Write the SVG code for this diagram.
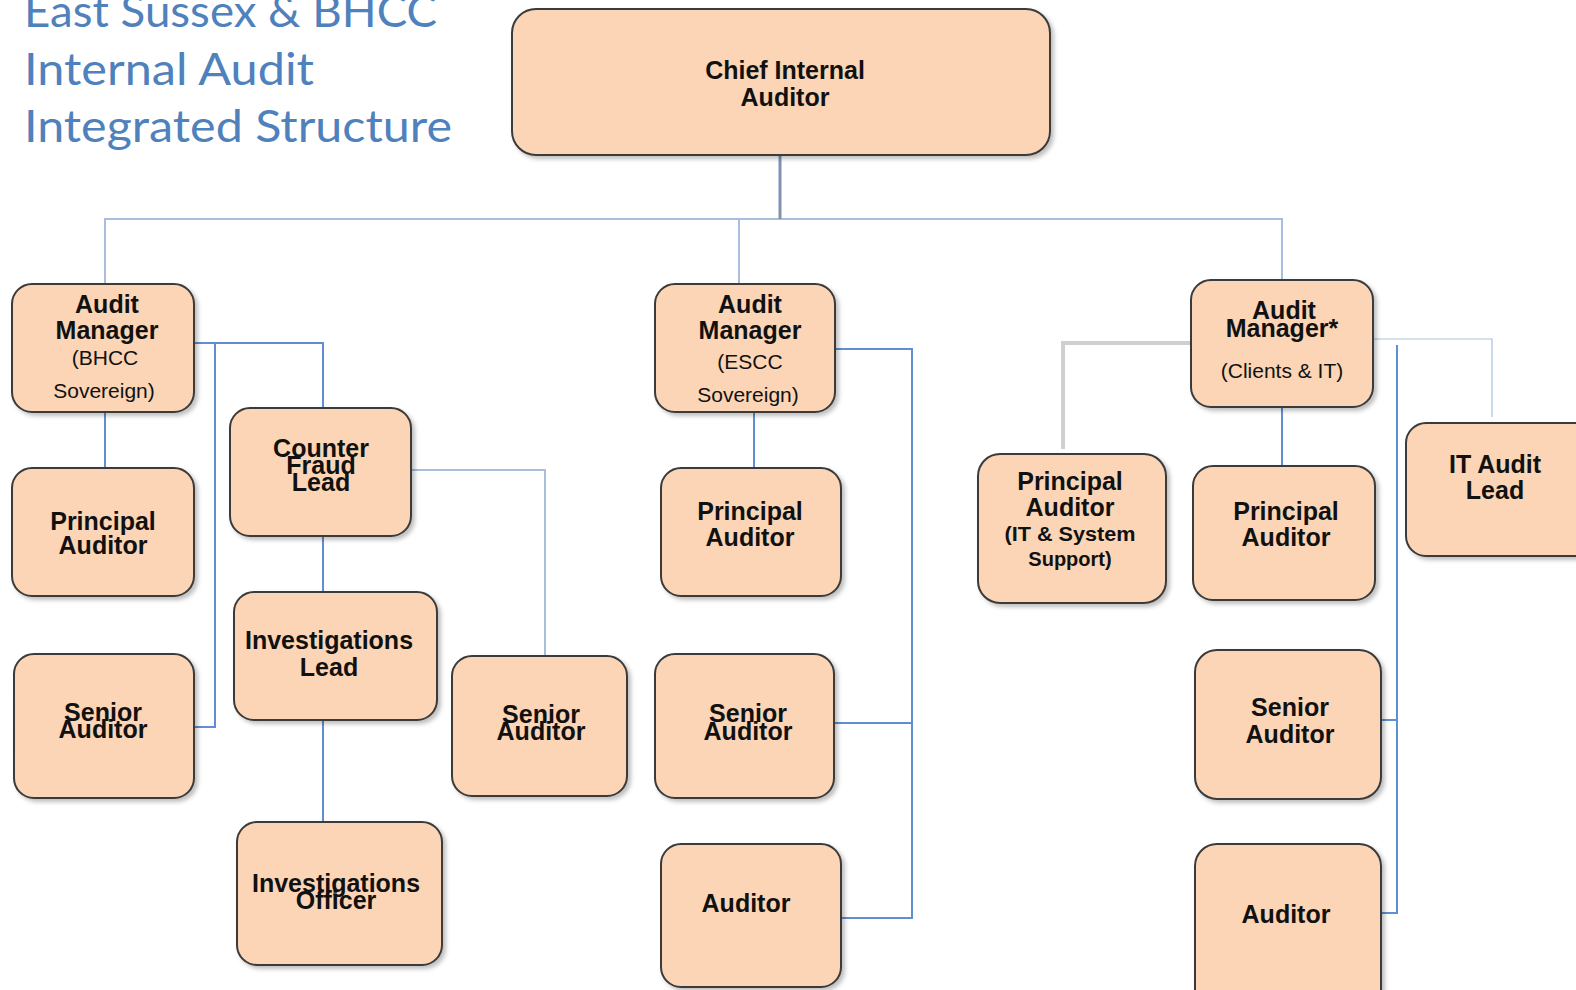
<svg xmlns="http://www.w3.org/2000/svg" width="1576" height="990" viewBox="0 0 1576 990">
<style>
.box{fill:#fbd5b5;stroke:#3a3a3a;stroke-width:2;filter:url(#sh)}
.t{font-family:"Liberation Sans",Arial,sans-serif;font-weight:bold;font-size:25px;fill:#111;text-anchor:middle}
.s{font-family:"Liberation Sans",Arial,sans-serif;font-size:21px;fill:#111;text-anchor:middle}
.title{font-family:Lato,"Open Sans",sans-serif;font-size:44px;fill:#4f81bd}
.c{fill:none;stroke:#5f8fd2;stroke-width:2}
.cl{fill:none;stroke:#a9bddc;stroke-width:2}
</style>
<defs>
<filter id="sh" x="-10%" y="-10%" width="125%" height="125%">
<feDropShadow dx="3" dy="3" stdDeviation="2" flood-color="#000" flood-opacity="0.25"/>
</filter>
</defs>
<rect width="1576" height="990" fill="#fff"/>
<g id="title">
<text class="title" x="24" y="27" textLength="413" lengthAdjust="spacingAndGlyphs">East Sussex &amp; BHCC</text>
<text class="title" x="24" y="85" textLength="290" lengthAdjust="spacingAndGlyphs">Internal Audit</text>
<text class="title" x="24" y="142" textLength="428" lengthAdjust="spacingAndGlyphs">Integrated Structure</text>
</g>
<g id="connectors">
<path class="cl" d="M105 284V219H1282V280"/>
<path d="M780 155V219" fill="none" stroke="#7f93b0" stroke-width="3"/>
<path class="cl" d="M739 219V284"/>
<path class="c" d="M105 412V468"/>
<path class="c" d="M194 343H323V408"/>
<path class="c" d="M215 343V727H194"/>
<path class="c" d="M323 536V592"/>
<path class="c" d="M323 720V822"/>
<path class="cl" d="M411 470H545V656"/>
<path class="c" d="M754 412V468"/>
<path class="c" d="M835 349H912V918H841"/>
<path class="c" d="M834 723H912"/>
<path d="M1191 343H1063V449" fill="none" stroke="#cfcfcf" stroke-width="4"/>
<path d="M1373 339H1492V417" fill="none" stroke="#a9c0e2" stroke-width="1.2"/>
<path class="c" d="M1397 345V913H1381"/>
<path class="c" d="M1381 720H1397"/>
<path class="c" d="M1282 407V466"/>
</g>
<g id="chief"><rect class="box" x="512" y="9" width="538" height="146" rx="24"/>
<text class="t" x="785" y="79">Chief Internal</text><text class="t" x="785" y="106">Auditor</text></g>
<g id="am-bhcc"><rect class="box" x="12" y="284" width="182" height="128" rx="20"/>
<text class="t" x="107" y="313">Audit</text><text class="t" x="107" y="339">Manager</text>
<text class="s" x="105" y="365">(BHCC</text><text class="s" x="104" y="398">Sovereign)</text></g>
<g id="pa-left"><rect class="box" x="12" y="468" width="182" height="128" rx="20"/>
<text class="t" x="103" y="530">Principal</text><text class="t" x="103" y="554">Auditor</text></g>
<g id="sa-left"><rect class="box" x="14" y="654" width="180" height="144" rx="20"/>
<text class="t" x="103" y="721">Senior</text><text class="t" x="103" y="738">Auditor</text></g>
<g id="cfl"><rect class="box" x="230" y="408" width="181" height="128" rx="20"/>
<text class="t" x="321" y="457">Counter</text><text class="t" x="321" y="474">Fraud</text><text class="t" x="321" y="491">Lead</text></g>
<g id="il"><rect class="box" x="234" y="592" width="203" height="128" rx="20"/>
<text class="t" x="329" y="649">Investigations</text><text class="t" x="329" y="676">Lead</text></g>
<g id="io"><rect class="box" x="237" y="822" width="205" height="143" rx="20"/>
<text class="t" x="336" y="892">Investigations</text><text class="t" x="336" y="909">Officer</text></g>
<g id="sa-cf"><rect class="box" x="452" y="656" width="175" height="140" rx="20"/>
<text class="t" x="541" y="723">Senior</text><text class="t" x="541" y="740">Auditor</text></g>
<g id="am-escc"><rect class="box" x="655" y="284" width="180" height="128" rx="20"/>
<text class="t" x="750" y="313">Audit</text><text class="t" x="750" y="339">Manager</text>
<text class="s" x="750" y="369">(ESCC</text><text class="s" x="748" y="402">Sovereign)</text></g>
<g id="pa-mid"><rect class="box" x="661" y="468" width="180" height="128" rx="20"/>
<text class="t" x="750" y="520">Principal</text><text class="t" x="750" y="546">Auditor</text></g>
<g id="sa-mid"><rect class="box" x="655" y="654" width="179" height="144" rx="20"/>
<text class="t" x="748" y="722">Senior</text><text class="t" x="748" y="740">Auditor</text></g>
<g id="aud-mid"><rect class="box" x="661" y="844" width="180" height="143" rx="20"/>
<text class="t" x="746" y="912">Auditor</text></g>
<g id="pa-itss"><rect class="box" x="978" y="454" width="188" height="149" rx="22"/>
<text class="t" x="1070" y="490">Principal</text><text class="t" x="1070" y="516">Auditor</text>
<text class="t" x="1070" y="541" style="font-size:20px" textLength="131" lengthAdjust="spacingAndGlyphs">(IT &amp; System</text>
<text class="t" x="1070" y="566" style="font-size:20px">Support)</text></g>
<g id="am-it"><rect class="box" x="1191" y="280" width="182" height="127" rx="20"/>
<text class="t" x="1284" y="319">Audit</text><text class="t" x="1282" y="337">Manager*</text>
<text class="s" x="1282" y="378">(Clients &amp; IT)</text></g>
<g id="pa-right"><rect class="box" x="1193" y="466" width="182" height="134" rx="20"/>
<text class="t" x="1286" y="520">Principal</text><text class="t" x="1286" y="546">Auditor</text></g>
<g id="itl"><rect class="box" x="1406" y="423" width="190" height="133" rx="20"/>
<text class="t" x="1495" y="473">IT Audit</text><text class="t" x="1495" y="499">Lead</text></g>
<g id="sa-right"><rect class="box" x="1195" y="650" width="186" height="149" rx="22"/>
<text class="t" x="1290" y="716">Senior</text><text class="t" x="1290" y="743">Auditor</text></g>
<g id="aud-right"><rect class="box" x="1195" y="844" width="186" height="170" rx="22"/>
<text class="t" x="1286" y="923">Auditor</text></g>
</svg>
